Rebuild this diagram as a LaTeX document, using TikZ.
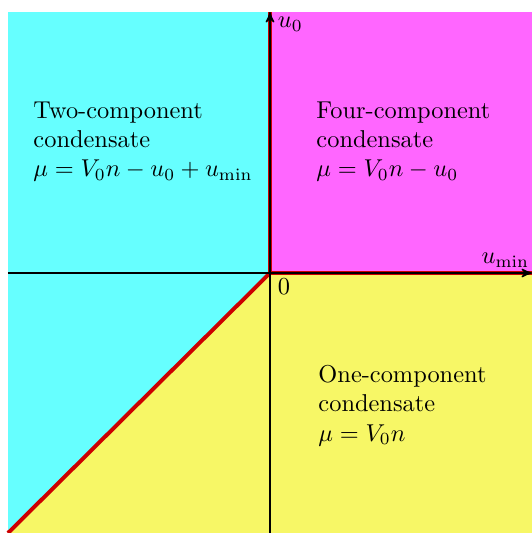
\documentclass[tikz,border=0pt]{standalone}
\usepackage{xcolor}
\usepackage{tikz}
\usetikzlibrary{arrows, positioning}
\usepackage{amsmath,amssymb}

\definecolor{twocol}{RGB}{102,255,255}
\definecolor{fourcol}{RGB}{255,102,255}
\definecolor{onecol}{RGB}{247,247,102}
\definecolor{linecol}{RGB}{204,0,0}

\begin{document}
\begin{tikzpicture}[x=0.41pt, y=0.41pt]
\tikzstyle{phase} = [anchor=north west, align=left, inner sep=0pt]
\tikzstyle{border} = [linecol, line width=1.6pt]
\tikzstyle{axis} = [black, line width=0.6pt, ->, >=stealth']

\useasboundingbox (-270,-260) rectangle (262,273);

\coordinate (O) at (0,0);
\coordinate (top) at (0,261);
\coordinate (right) at (262,0);
\coordinate (bottom) at (0,-260);
\coordinate (left) at (-262,0);
\coordinate (corner) at (-262,-260);

% phase regions
\fill [twocol] (-262,-260) rectangle (0,261);
\fill [fourcol] (0,0) rectangle (262,261);
\fill [onecol] (corner) -- (O) -- (right) -- (262,-260) -- cycle;

% phase boundaries
\draw [border] (top) -- (O) -- (right);
\draw [border] (O) -- (corner);

% axes
\draw [axis] (left) -- (right);
\draw [axis] (bottom) -- (top);

\node (u0) [anchor=north west, inner sep=1pt] at ([xshift=2pt,yshift=-1pt]top) {$u_0$};
\node (umin) [anchor=south east, inner sep=1pt] at ([yshift=1pt]right) {$u_{\min}$};
\node (zero) [anchor=north west, inner sep=1pt] at ([xshift=2pt,yshift=-1pt]O) {0};

\node (two) [phase] at (-237,172) {Two-component\\condensate\\$\mu=V_0n-u_0+u_{\min}$};
\node (four) [phase] at (46,172) {Four-component\\condensate\\$\mu=V_0n-u_0$};
\node (one) [phase] at (48,-92) {One-component\\condensate\\$\mu=V_0n$};
\end{tikzpicture}
\end{document}
